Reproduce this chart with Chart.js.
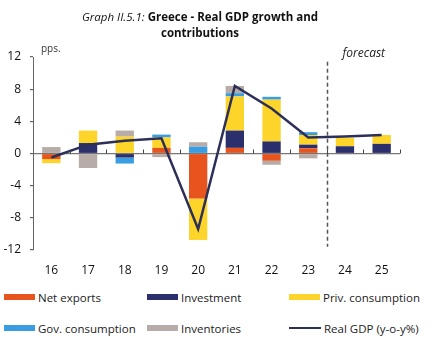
<!DOCTYPE html>
<html>
<head>
<meta charset="utf-8">
<script src="https://cdn.jsdelivr.net/npm/chart.js@4.4.1/dist/chart.umd.min.js"></script>
<style>
  body { margin: 0; background: #fff; font-family: "Open Sans", sans-serif; }
  #wrap { position: relative; width: 439px; height: 364px; overflow: hidden; }
  #titulo { position: absolute; left: 0; top: 9px; width: 400px; text-align: center; font-size: 11.5px; line-height: 16px; color: #111; }
  #titulo i { font-weight: normal; }
  #titulo b { font-weight: bold; }
  #pps { position: absolute; left: 41px; top: 41px; font-size: 10px; color: #333; }
  #grafico { position: absolute; left: 0; top: 0; width: 439px; height: 280px; }
  .ley { position: absolute; font-size: 11.5px; color: #222; display: flex; align-items: center; white-space: nowrap; }
  .ley span.sw { display: inline-block; width: 31px; height: 6px; margin-right: 3px; }
  .ley span.ln { display: inline-block; width: 32px; height: 2px; margin-right: 3px; }
</style>
</head>
<body>
<div id="wrap">
  <div id="grafico"><canvas id="barras"></canvas></div>
  <div id="titulo"><i>Graph II.5.1:</i> <b>Greece - Real GDP growth and<br>contributions</b></div>
  <div id="pps">pps.</div>
  <div id="leyenda"></div>
</div>
<script>
// DATOS
const anios = ["16", "17", "18", "19", "20", "21", "22", "23", "24", "25"];
const exportacionesNetas = [-0.7, 0, 0, 0.7, -5.6, 0.7, -0.9, 0.65, 0, 0];
const inversion = [0, 1.3, -0.5, 0, 0, 2.15, 1.5, 0.45, 0.9, 1.2];
const consumoPrivado = [-0.5, 1.55, 2.1, 1.3, -5.15, 4.25, 5.2, 1.2, 1.05, 1.1];
const consumoGobierno = [0, 0, -0.75, 0.35, 0.85, 0.4, 0.35, 0.35, 0, 0];
const inventarios = [0.8, -1.8, 0.75, -0.45, 0.55, 0.9, -0.5, -0.6, 0, 0];
const pibReal = [-0.5, 1.1, 1.6, 1.9, -9.4, 8.4, 5.6, 2.0, 2.1, 2.3];
const ticksY = [-12, -8, -4, 0, 4, 8, 12];
const inicioPrevision = 8; // indice de "24"
// DATOS END

const colores = {
  exp: "#e8541e",
  inv: "#2b2f6b",
  priv: "#fdd42a",
  gob: "#3a9de2",
  invent: "#b7aca8",
  pib: "#2c3058",
};

// plugin: marcas en el eje cero, linea de prevision y texto
const extras = {
  id: "extras",
  afterDatasetsDraw(chart) {
    const ctx = chart.ctx;
    const x = chart.scales.x;
    const y = chart.scales.y;
    const y0 = y.getPixelForValue(0);
    const paso = x.getPixelForValue(1) - x.getPixelForValue(0);
    ctx.save();
    ctx.strokeStyle = "#444";
    ctx.lineWidth = 1;
    for (let i = 0; i < anios.length; i++) {
      const px = Math.round(x.getPixelForValue(i) + paso / 2) + 0.5;
      ctx.beginPath();
      ctx.moveTo(px, y0);
      ctx.lineTo(px, y0 - 4);
      ctx.stroke();
    }
    // linea discontinua
    const xp = Math.round(x.getPixelForValue(inicioPrevision) - paso / 2) + 0.5;
    ctx.strokeStyle = "#555";
    ctx.lineWidth = 1.5;
    ctx.setLineDash([4, 3]);
    ctx.beginPath();
    ctx.moveTo(xp, y.getPixelForValue(11.4));
    ctx.lineTo(xp, y.getPixelForValue(-11.6));
    ctx.stroke();
    ctx.setLineDash([]);
    ctx.fillStyle = "#222";
    ctx.font = "italic 12px 'Open Sans'";
    ctx.textBaseline = "middle";
    ctx.fillText("forecast", xp + 15, y.getPixelForValue(12.4));
    ctx.restore();
  },
};

function serie(label, data, color) {
  return {
    type: "bar",
    label: label,
    data: data,
    backgroundColor: color,
    borderWidth: 0,
    barPercentage: 1,
    categoryPercentage: 0.5,
    stack: "s",
    order: 2,
  };
}

const data = {
  labels: anios,
  datasets: [
    serie("Net exports", exportacionesNetas, colores.exp),
    serie("Investment", inversion, colores.inv),
    serie("Priv. consumption", consumoPrivado, colores.priv),
    serie("Gov. consumption", consumoGobierno, colores.gob),
    serie("Inventories", inventarios, colores.invent),
    {
      type: "line",
      label: "Real GDP (y-o-y%)",
      data: pibReal,
      borderColor: colores.pib,
      borderWidth: 2.5,
      pointRadius: 0,
      tension: 0,
      fill: false,
      order: 1,
    },
  ],
};

const config = {
  type: "bar",
  data: data,
  options: {
    responsive: false,
    animation: false,
    maintainAspectRatio: false,
    layout: { padding: { top: 57, right: 39, left: 0, bottom: 0 } },
    plugins: {
      legend: { display: false },
      tooltip: { enabled: false },
    },
    scales: {
      x: {
        stacked: true,
        grid: { display: false },
        border: { display: false },
        ticks: { padding: 5, color: "#111", font: { family: "Open Sans", size: 12 } },
        afterFit: (s) => { s.height = 30; },
      },
      y: {
        stacked: true,
        min: -12,
        max: 12,
        afterBuildTicks: (s) => { s.ticks = ticksY.map((v) => ({ value: v })); },
        grid: {
          drawOnChartArea: true,
          color: (c) => (c.tick && c.tick.value === 0 ? "#777" : "rgba(0,0,0,0)"),
          tickColor: "#666",
          tickLength: 3,
          lineWidth: 1.2,
        },
        border: { display: true, color: "#666", width: 1 },
        ticks: { padding: 9, color: "#111", font: { family: "Open Sans", size: 12 } },
        afterFit: (s) => { s.width = 33; },
      },
    },
  },
  plugins: [extras],
};

const canvas = document.getElementById("barras");
canvas.width = 439;
canvas.height = 280;
canvas.style.width = "439px";
canvas.style.height = "280px";
new Chart(canvas, config);

// LEYENDA
const columnas = [4, 147, 289];
const filas = [297, 328];
let html = "";
data.datasets.forEach((d, i) => {
  const col = columnas[i % 3];
  const fila = filas[Math.floor(i / 3)];
  const marca = d.type === "line"
    ? `<span class="ln" style="background:${d.borderColor}"></span>`
    : `<span class="sw" style="background:${d.backgroundColor}"></span>`;
  html += `<div class="ley" style="left:${col}px;top:${fila - 9}px;height:18px">${marca}${d.label}</div>`;
});
document.getElementById("leyenda").innerHTML = html;
</script>
</body>
</html>
